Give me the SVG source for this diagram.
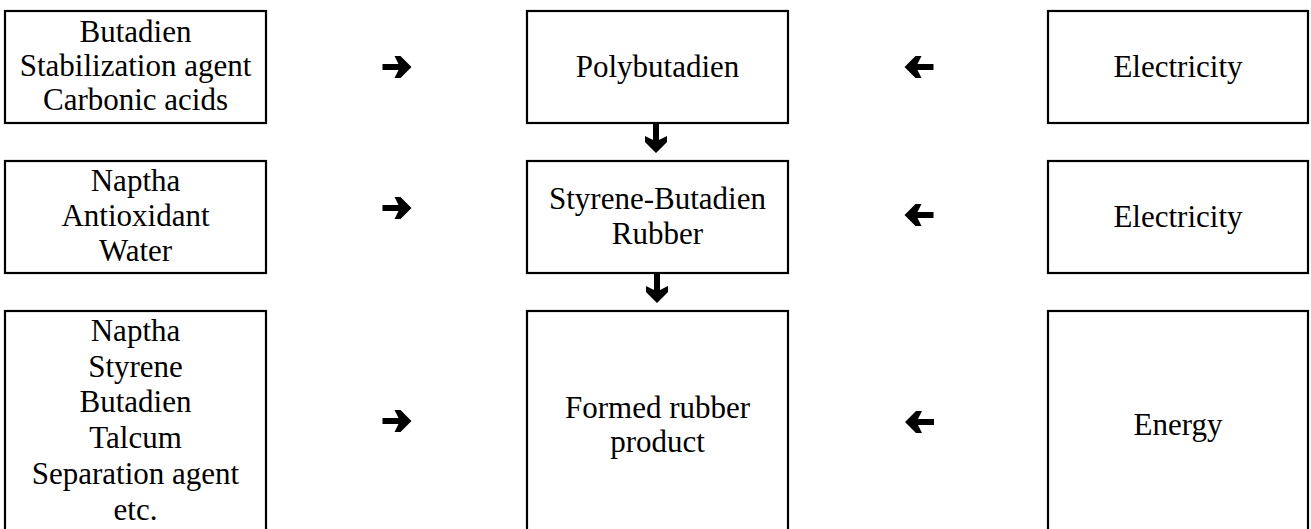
<svg xmlns="http://www.w3.org/2000/svg" xmlns:xlink="http://www.w3.org/1999/xlink" width="1311" height="529" viewBox="0 0 1311 529">
  <style>
    .box { fill: #ffffff; stroke: #000000; stroke-width: 2.2; }
    .lbl { font-family: "Liberation Serif", "Times New Roman", serif; font-size: 31px; fill: #000000; text-anchor: middle; }
    .arw { fill: #000000; }
  </style>
  <defs>
    <!-- bold block arrow pointing right, centred on the origin -->
    <path id="arrow" d="M-15,-3 H1 L-3,-11 H3 L14,0 L3,11 H-3 L1,3 H-15 Z"/>
  </defs>
  <rect width="1311" height="529" fill="#ffffff"/>

  <!-- row 1 -->
  <g id="inputs-polybutadien">
    <rect class="box" x="5" y="11" width="261" height="112"/>
    <text class="lbl" x="135.5" y="42">Butadien</text>
    <text class="lbl" x="135.5" y="76">Stabilization agent</text>
    <text class="lbl" x="135.5" y="110">Carbonic acids</text>
  </g>
  <g id="polybutadien">
    <rect class="box" x="527" y="11" width="261" height="112"/>
    <text class="lbl" x="657.5" y="77">Polybutadien</text>
  </g>
  <g id="electricity-1">
    <rect class="box" x="1048" y="11" width="260" height="112"/>
    <text class="lbl" x="1178" y="77">Electricity</text>
  </g>

  <!-- row 2 -->
  <g id="inputs-sbr">
    <rect class="box" x="5" y="161" width="261" height="112"/>
    <text class="lbl" x="135.5" y="191">Naptha</text>
    <text class="lbl" x="135.5" y="226">Antioxidant</text>
    <text class="lbl" x="135.5" y="261">Water</text>
  </g>
  <g id="sbr">
    <rect class="box" x="527" y="161" width="261" height="112"/>
    <text class="lbl" x="657.5" y="209">Styrene-Butadien</text>
    <text class="lbl" x="657.5" y="244">Rubber</text>
  </g>
  <g id="electricity-2">
    <rect class="box" x="1048" y="161" width="260" height="112"/>
    <text class="lbl" x="1178" y="227">Electricity</text>
  </g>

  <!-- row 3 (boxes run past the lower edge) -->
  <g id="inputs-forming">
    <rect class="box" x="5" y="311" width="261" height="240"/>
    <text class="lbl" x="135.5" y="341">Naptha</text>
    <text class="lbl" x="135.5" y="377">Styrene</text>
    <text class="lbl" x="135.5" y="412">Butadien</text>
    <text class="lbl" x="135.5" y="448">Talcum</text>
    <text class="lbl" x="135.5" y="484">Separation agent</text>
    <text class="lbl" x="135.5" y="520">etc.</text>
  </g>
  <g id="formed-product">
    <rect class="box" x="527" y="311" width="261" height="240"/>
    <text class="lbl" x="657.5" y="418">Formed rubber</text>
    <text class="lbl" x="657.5" y="452">product</text>
  </g>
  <g id="energy">
    <rect class="box" x="1048" y="311" width="260" height="240"/>
    <text class="lbl" x="1178" y="435">Energy</text>
  </g>

  <!-- connectors -->
  <g id="connectors" class="arw">
    <use xlink:href="#arrow" href="#arrow" transform="translate(397.5,67)"/>
    <use xlink:href="#arrow" href="#arrow" transform="translate(918.5,67) scale(-1,1)"/>
    <use xlink:href="#arrow" href="#arrow" transform="translate(397.5,208)"/>
    <use xlink:href="#arrow" href="#arrow" transform="translate(918.5,215) scale(-1,1)"/>
    <use xlink:href="#arrow" href="#arrow" transform="translate(397.5,421)"/>
    <use xlink:href="#arrow" href="#arrow" transform="translate(919,422) scale(-1,1)"/>
    <use xlink:href="#arrow" href="#arrow" transform="translate(656,139) rotate(90)"/>
    <use xlink:href="#arrow" href="#arrow" transform="translate(657,289) rotate(90)"/>
  </g>
</svg>
